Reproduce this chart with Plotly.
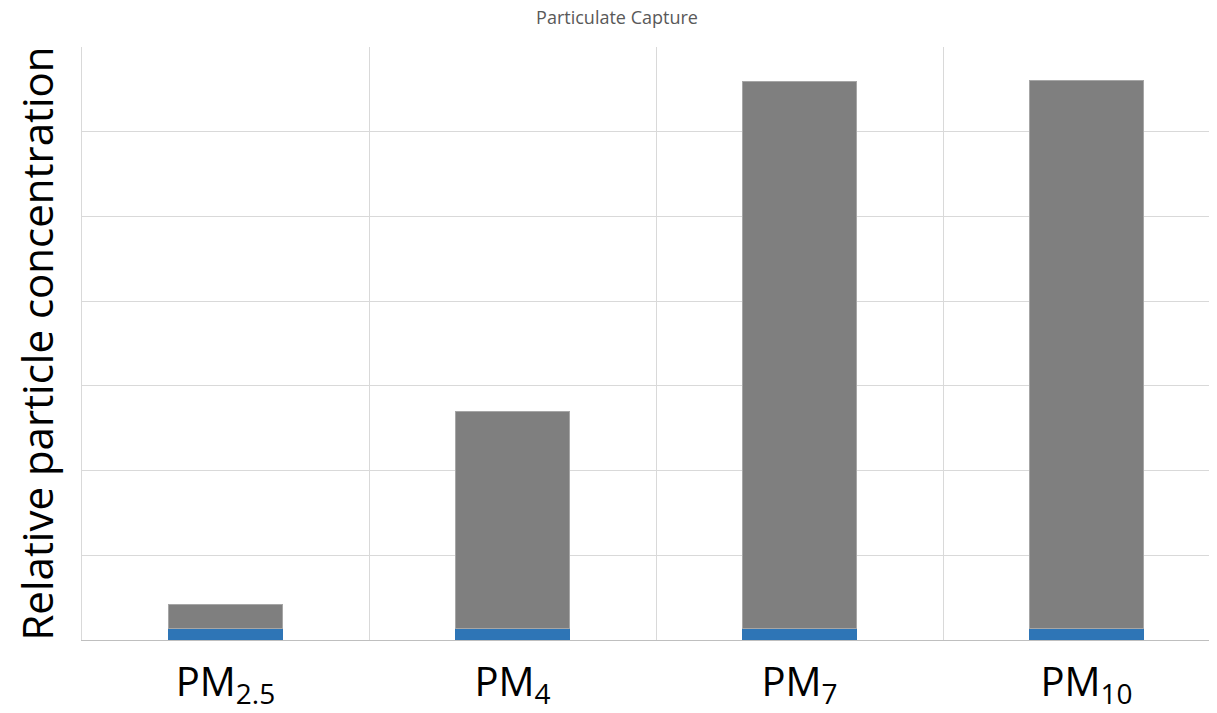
import plotly.graph_objects as go

categories = ["PM<sub>2.5</sub>", "PM<sub>4</sub>", "PM<sub>7</sub>", "PM<sub>10</sub>"]
captured = [0.13, 0.13, 0.13, 0.13]
remaining = [0.29, 2.57, 6.46, 6.47]

fig = go.Figure()
fig.add_trace(go.Bar(x=categories, y=captured, width=0.4, marker=dict(color="#2e75b6", line=dict(width=0)),
                     name="Captured", hoverinfo="y"))
fig.add_trace(go.Bar(x=categories, y=remaining, width=0.4, marker=dict(color="#7f7f7f", line=dict(color="#a6a6a6", width=1)),
                     name="Remaining", hoverinfo="y"))

# page body has an 8px default margin, so the figure is sized/offset to compensate
W, H = 1209, 705
fig.update_layout(
    barmode="stack",
    width=W, height=H,
    margin=dict(l=74, r=0, t=39, b=73, autoexpand=False),
    plot_bgcolor="white", paper_bgcolor="white",
    showlegend=False,
    font=dict(family="Open Sans", color="black"),
    title=dict(text="Particulate Capture", x=609/W, xanchor="center", y=1, yanchor="top",
               pad=dict(t=3), font=dict(size=18, color="#595959"), automargin=False),
)
fig.update_xaxes(
    type="category", tickson="boundaries", range=[-0.5, 3.4547],
    showgrid=True, gridcolor="#d9d9d9", gridwidth=1,
    showline=True, linecolor="#bfbfbf", linewidth=1,
    ticks="", tickfont=dict(size=40, color="black"), ticklabelstandoff=7, automargin=False,
)
fig.update_yaxes(
    range=[0, 7], dtick=1, showgrid=True, gridcolor="#d9d9d9", gridwidth=1,
    showline=True, linecolor="#d9d9d9", linewidth=1,
    showticklabels=False, ticks="", zeroline=False, automargin=False,
    title=dict(text="Relative particle concentration", font=dict(size=42, color="black"), standoff=19),
)

fig.write_html("out.html")
